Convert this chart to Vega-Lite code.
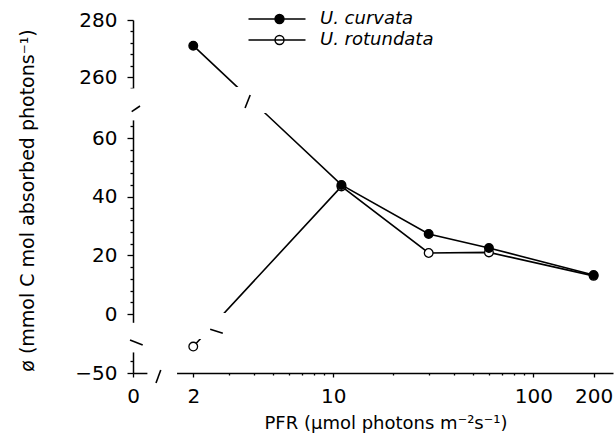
{
  "$schema": "https://vega.github.io/schema/vega-lite/v6.json",
  "width": 480,
  "height": 353,
  "autosize": {"type": "none"},
  "padding": {"left": 133, "top": 20, "right": 1, "bottom": 72},
  "config": {"view": {"stroke": null}, "font": "DejaVu Sans"},
  "datasets": {
    "photosynthesis": [
      {"species": "U. rotundata", "pfr": 2, "phi": -41},
      {"species": "U. rotundata", "pfr": 11, "phi": 43.5},
      {"species": "U. rotundata", "pfr": 30, "phi": 20.8},
      {"species": "U. rotundata", "pfr": 60, "phi": 21},
      {"species": "U. rotundata", "pfr": 200, "phi": 13},
      {"species": "U. curvata", "pfr": 2, "phi": 271},
      {"species": "U. curvata", "pfr": 11, "phi": 44},
      {"species": "U. curvata", "pfr": 30, "phi": 27.3},
      {"species": "U. curvata", "pfr": 60, "phi": 22.5},
      {"species": "U. curvata", "pfr": 200, "phi": 13.3}
    ],
    "axisGaps": [
      {"pfr": 0.96, "pfr_end": 1.05, "phi": 66, "phi_end": 256},
      {"pfr": 0.96, "pfr_end": 1.05, "phi": -43, "phi_end": -3},
      {"pfr": 1.18, "pfr_end": 1.66, "phi": -52, "phi_end": -48},
      {"pfr": 1.1, "pfr_end": 250, "phi": 110, "phi_end": 256.5},
      {"pfr": 1.1, "pfr_end": 250, "phi": -35.6, "phi_end": 0.3}
    ],
    "breakMarks": [
      {"pfr": 0.985, "phi": 117.7, "pfr_end": 1.084, "phi_end": 151.5},
      {"pfr": 0.966, "phi": -37.6, "pfr_end": 1.118, "phi_end": -40.5},
      {"pfr": 1.303, "phi": -53.4, "pfr_end": 1.376, "phi_end": -49},
      {"pfr": 3.63, "phi": 139.6, "pfr_end": 3.85, "phi_end": 216.8},
      {"pfr": 2.43, "phi": -16.1, "pfr_end": 2.81, "phi_end": -24.1}
    ]
  },
  "encoding": {
    "x": {
      "field": "pfr",
      "type": "quantitative",
      "scale": {"type": "log", "domain": [1, 250], "nice": false},
      "axis": {
        "title": "PFR (µmol photons m⁻²s⁻¹)",
        "titleFont": "DejaVu Sans",
        "titleFontSize": 18,
        "titleFontWeight": "normal",
        "titleColor": "black",
        "titleX": 252.5,
        "titleY": 55,
        "titleAlign": "center",
        "titleBaseline": "alphabetic",
        "values": [1, 2, 3, 4, 5, 6, 7, 8, 9, 10, 20, 30, 40, 50, 60, 70, 80, 90, 100, 200],
        "labelExpr": "datum.value == 1 ? '0' : ((datum.value == 2 || datum.value == 10 || datum.value == 100 || datum.value == 200) ? format(datum.value, 'd') : '')",
        "labelFont": "DejaVu Sans",
        "labelFontSize": 20,
        "labelFontWeight": "normal",
        "labelColor": "black",
        "labelPadding": 9,
        "labelFlush": false,
        "labelOverlap": false,
        "grid": false,
        "domainColor": "black",
        "domainWidth": 1.5,
        "tickColor": "black",
        "tickWidth": 1.3,
        "tickSize": {"condition": {"test": "datum.value == 1 || datum.value == 2 || datum.value == 10 || datum.value == 100 || datum.value == 200", "value": 4}, "value": 2}
      }
    },
    "y": {
      "field": "phi",
      "type": "quantitative",
      "scale": {
        "domain": [-50, -39, -3, 66, 256, 280],
        "range": [353, 320.7, 302.8, 100.4, 68.4, 0],
        "zero": false,
        "nice": false
      },
      "axis": {
        "title": "ø (mmol C mol absorbed photons⁻¹)",
        "titleFont": "DejaVu Sans",
        "titleFontSize": 19,
        "titleFontWeight": "normal",
        "titleColor": "black",
        "titleAngle": -90,
        "titleX": -106,
        "titleY": 180,
        "titleAlign": "center",
        "titleBaseline": "middle",
        "values": [-50, -46, 0, 4, 8, 12, 16, 20, 24, 28, 32, 36, 40, 44, 48, 52, 56, 60, 64, 256, 260, 264, 268, 272, 276, 280],
        "labelExpr": "(datum.value % 20 == 0 || datum.value == -50) ? datum.label : ''",
        "labelFont": "DejaVu Sans",
        "labelFontSize": 20,
        "labelFontWeight": "normal",
        "labelColor": "black",
        "labelPadding": 10,
        "labelFlush": false,
        "labelOverlap": false,
        "grid": false,
        "domainColor": "black",
        "domainWidth": 1.5,
        "tickColor": "black",
        "tickWidth": 1.3,
        "tickSize": {"condition": {"test": "datum.value % 20 != 0 && datum.value != -50", "value": 3}, "value": 6}
      }
    }
  },
  "layer": [
    {
      "data": {"name": "photosynthesis"},
      "mark": {"type": "line", "color": "black", "strokeWidth": 1.6},
      "encoding": {"detail": {"field": "species", "type": "nominal"}}
    },
    {
      "data": {"name": "axisGaps"},
      "mark": {"type": "rect", "fill": "white", "strokeWidth": 0},
      "encoding": {
        "x2": {"field": "pfr_end"},
        "y2": {"field": "phi_end"}
      }
    },
    {
      "data": {"name": "breakMarks"},
      "mark": {"type": "rule", "color": "black", "strokeWidth": 1.6},
      "encoding": {
        "x2": {"field": "pfr_end"},
        "y2": {"field": "phi_end"}
      }
    },
    {
      "data": {"name": "photosynthesis"},
      "mark": {"type": "point", "shape": "circle", "filled": true, "stroke": "black", "strokeWidth": 1.3, "size": 75, "opacity": 1},
      "encoding": {
        "fill": {
          "field": "species",
          "type": "nominal",
          "scale": {"domain": ["U. curvata", "U. rotundata"], "range": ["black", "white"]},
          "legend": {
            "title": null,
            "orient": "none",
            "legendX": 135,
            "legendY": -10,
            "direction": "vertical",
            "padding": 0,
            "symbolType": "M-5.7,0L5.7,0M1.4,0A0.9,0.9,0,1,1,-0.4,0A0.9,0.9,0,1,1,1.4,0Z",
            "symbolSize": 100,
            "symbolStrokeColor": "black",
            "symbolStrokeWidth": 1.4,
            "symbolOpacity": 1,
            "labelFont": "DejaVu Sans",
            "labelFontSize": 18,
            "labelFontStyle": "italic",
            "labelColor": "black",
            "labelOffset": 34,
            "rowPadding": 3
          }
        }
      }
    }
  ]
}
